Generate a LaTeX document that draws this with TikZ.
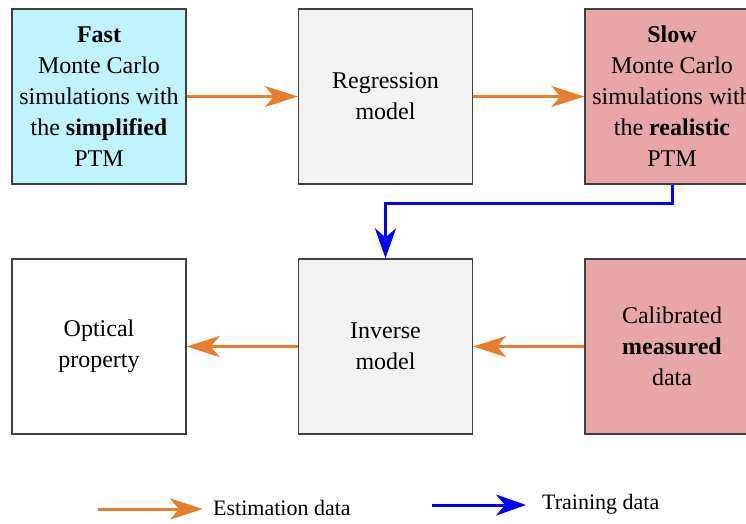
\documentclass[tikz,border=0pt]{standalone}
\usepackage{fontspec}
\setmainfont{Liberation Serif}
\usepackage{xcolor}
\usepackage{tikz}
\usetikzlibrary{arrows.meta, positioning}

\definecolor{fastblue}{RGB}{191,243,255}
\definecolor{boxgray}{RGB}{242,242,242}
\definecolor{slowred}{RGB}{232,166,166}
\definecolor{estorange}{RGB}{232,125,46}
\definecolor{edgegray}{RGB}{64,64,64}

\begin{document}
\begin{tikzpicture}[x=1pt, y=-1pt,
  block/.style={draw=edgegray, line width=1.3pt, minimum width=174pt, minimum height=175pt,
    inner sep=0pt, align=center, font=\fontsize{24}{31}\selectfont},
  est/.style={estorange, line width=3pt, -{Stealth[length=33pt,width=21pt,inset=9pt]}},
  train/.style={blue, line width=3pt, -{Stealth[length=30pt,width=21pt,inset=9pt]}},
  legend/.style={anchor=west, inner sep=0pt, font=\fontsize{22}{26}\selectfont}]
\useasboundingbox (0,0) rectangle (746,523);

% top row
\node[block, fill=fastblue] (fast) at (99,96.5) {\textbf{Fast}\\Monte Carlo\\simulations with\\the \textbf{simplified}\\PTM};
\node[block, fill=boxgray] (regr) at (385.5,96.5) {Regression\\model};
\node[block, fill=slowred] (slow) at (672,96.5) {\textbf{Slow}\\Monte Carlo\\simulations with\\the \textbf{realistic}\\PTM};

% bottom row
\node[block, fill=white] (optic) at (99,346.5) {Optical\\property};
\node[block, fill=boxgray] (inverse) at (385.5,346.5) {Inverse\\model};
\node[block, fill=slowred] (measured) at (672,346.5) {Calibrated\\\textbf{measured}\\data};

\draw[est] (fast) -- (regr);
\draw[est] (regr) -- (slow);
\draw[est] (measured) -- (inverse);
\draw[est] (inverse) -- (optic);
\draw[train] (slow.south) -- ++(0,19) -| (inverse.north);

% legend
\coordinate (e1) at (98,509);
\coordinate (e2) at (203,509);
\draw[est] (e1) -- (e2);
\node[legend] (esttext) at (213,508) {Estimation data};
\coordinate (t1) at (432,505);
\coordinate (t2) at (526,505);
\draw[train] (t1) -- (t2);
\node[legend] (traintext) at (542,504) {Training data};
\end{tikzpicture}
\end{document}
